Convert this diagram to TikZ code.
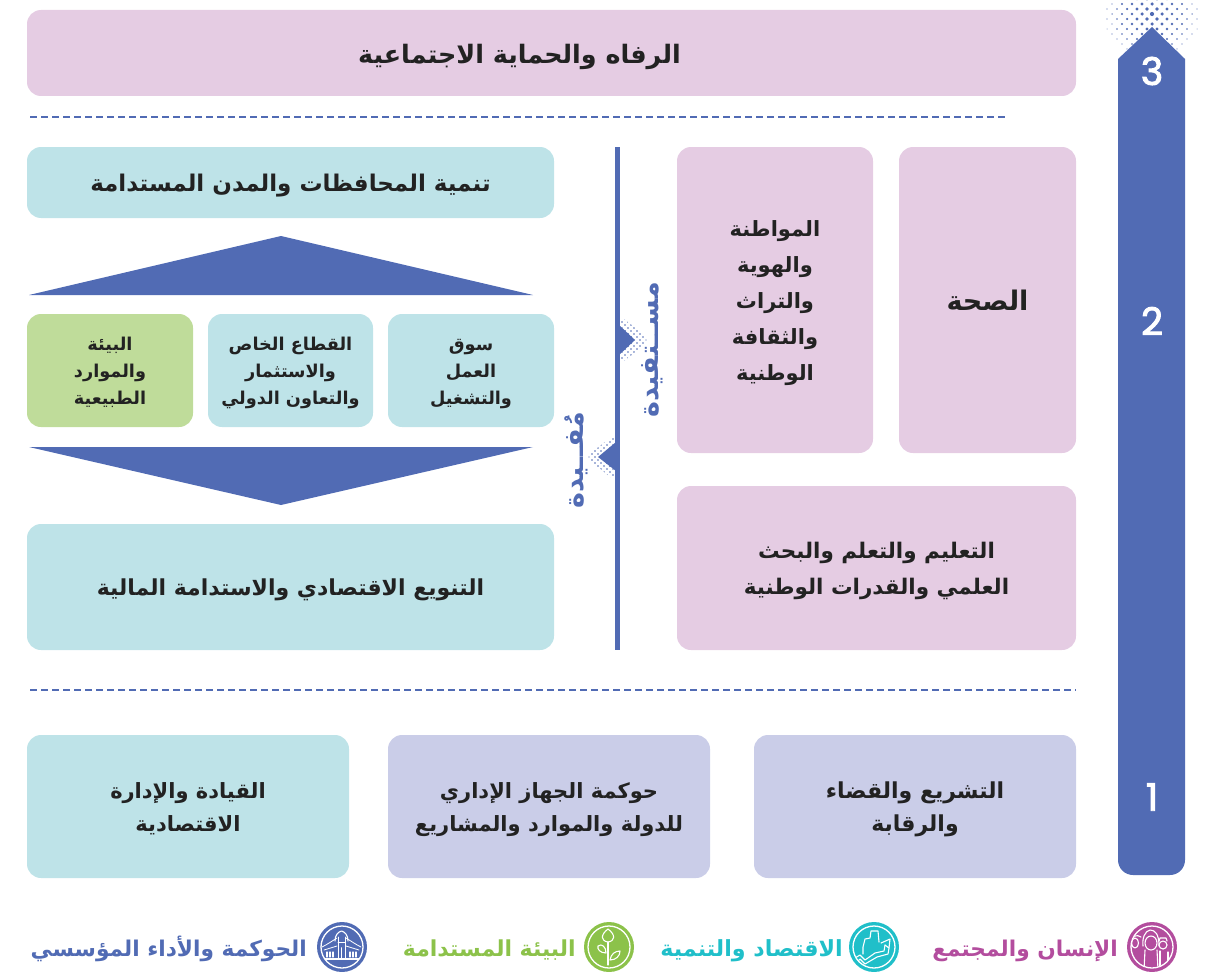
\documentclass[tikz,border=0pt]{standalone}
\usepackage{fontspec}
\setmainfont{DejaVu Sans}
\newfontfamily\arabicfont[Script=Arabic]{DejaVu Sans}
\newfontfamily\numfont[FakeBold=2.5]{Poppins}
\TeXXeTstate=1
\usetikzlibrary{calc}
\definecolor{mainblue}{HTML}{516BB4}
\definecolor{pinkbox}{HTML}{E5CCE3}
\definecolor{tealbox}{HTML}{BEE3E8}
\definecolor{greenbox}{HTML}{BFDC9A}
\definecolor{lavbox}{HTML}{CACDE8}
\definecolor{magentaleg}{HTML}{B34D9E}
\definecolor{tealleg}{HTML}{20BFC9}
\definecolor{greenleg}{HTML}{8CC24A}
\definecolor{ink}{HTML}{222222}
\newcommand{\RL}[1]{\raisebox{0pt}[.85em][.05em]{\beginR #1\endR}}
\newcommand{\fs}[2]{\arabicfont\bfseries\fontsize{#1}{#2}\selectfont}
% cx cy maxdist rmax xrange yrange step
\newcommand{\halftone}[7]{%
  \foreach \i in {-#5,...,#5}{\foreach \j in {-#6,...,#6}{
    \pgfmathparse{int(mod(abs(\i+\j),2))}
    \ifnum\pgfmathresult=0
      \pgfmathsetmacro{\dd}{veclen(\i*#7,\j*#7)}
      \pgfmathsetmacro{\rr}{#4*max(0.2,1-\dd/#3)}
      \fill[mainblue] (#1+\i*#7,#2+\j*#7) circle[radius=\rr];
    \fi}}}
\tikzset{
  box/.style={rounded corners=14pt,draw=none,inner sep=0pt,align=center,text=ink,anchor=center},
  dashline/.style={mainblue,line width=1.8pt,dash pattern=on 7pt off 4pt},
  numlabel/.style={text=white,font=\numfont\fontsize{38}{40}\selectfont,inner sep=0pt},
  legendtext/.style={font=\fs{21.7}{24},anchor=east,inner sep=0pt},
  iconring/.style={draw=white,line width=1.3pt,fill=none},
  iconline/.style={draw=white,line width=1.1pt,line join=round,line cap=round,fill=none},
  sidetext/.style={text=mainblue,rotate=90,inner sep=0pt,font=\fs{27}{30}}
}
\begin{document}
\begin{tikzpicture}[x=1pt,y=-1pt]
\useasboundingbox (0,0) rectangle (1214,971);

% spine arrow
\begin{scope}
  \clip (1152,-16) circle[radius=70];
  \halftone{1152}{14}{62}{2.1}{9}{8}{5}
\end{scope}
\fill[mainblue] (1152,27) -- (1185,59) -- (1185,860)
  arc[start angle=0,end angle=90,radius=15] -- (1133,875)
  arc[start angle=90,end angle=180,radius=15] -- (1118,59) -- cycle;
\node[numlabel] (n3) at (1152,71) {3};
\node[numlabel] (n2) at (1152,321) {2};
\node[numlabel] (n1) at (1152,797) {1};

% top band
\node[box,fill=pinkbox,minimum width=1049pt,minimum height=86pt,font=\fs{25.4}{30}] (welfare) at (551.5,53) {\RL{الرفاه والحماية الاجتماعية}\hspace*{64pt}};
\coordinate (d1a) at (30,117); \coordinate (d1b) at (1005,117);
\draw[dashline] (d1a) -- (d1b);

% left column
\node[box,fill=tealbox,minimum width=527pt,minimum height=71pt,font=\fs{23}{28}] (cities) at (290.5,182.5) {\RL{تنمية المحافظات والمدن المستدامة}};
\fill[mainblue] (29,295) -- (281,236) -- (533,295) -- cycle;
\node[box,fill=tealbox,minimum width=166pt,minimum height=113pt,font=\fs{17.7}{27}] (labour) at (471,370.5) {\RL{سوق}\\\RL{العمل}\\\RL{والتشغيل}};
\node[box,fill=tealbox,minimum width=165pt,minimum height=113pt,font=\fs{17.7}{27}] (private) at (290.5,370.5) {\RL{القطاع الخاص}\\\RL{والاستثمار}\\\RL{والتعاون الدولي}};
\node[box,fill=greenbox,minimum width=166pt,minimum height=113pt,font=\fs{17.7}{27}] (envbox) at (110,370.5) {\RL{البيئة}\\\RL{والموارد}\\\RL{الطبيعية}};
\fill[mainblue] (29,447) -- (533,447) -- (281,505) -- cycle;
\node[box,fill=tealbox,minimum width=527pt,minimum height=126pt,font=\fs{22}{28}] (divers) at (290.5,587) {\RL{التنويع الاقتصادي والاستدامة المالية}};

% centre divider with benefit markers
\begin{scope}
  \clip (620,316) -- (651,340) -- (620,364) -- cycle;
  \halftone{622}{340}{60}{1.2}{10}{8}{3}
\end{scope}
\begin{scope}
  \clip (615,434) -- (586,457) -- (615,481) -- cycle;
  \halftone{613}{457}{60}{1.2}{10}{8}{3}
\end{scope}
\coordinate (va) at (617.5,147); \coordinate (vb) at (617.5,650);
\draw[mainblue,line width=5pt] (va) -- (vb);
\fill[mainblue] (619,325) -- (635,340) -- (619,355) -- cycle;
\fill[mainblue] (616,442) -- (598,457) -- (616,471) -- cycle;
\node[sidetext] (benef) at (648,350) {\RL{مســتفيدة}};
\node[sidetext] (contrib) at (573,460) {\RL{مُفــيدة}};

% right column
\node[box,fill=pinkbox,minimum width=177pt,minimum height=306pt,font=\fs{27}{32}] (health) at (987.5,300) {\RL{الصحة}};
\node[box,fill=pinkbox,minimum width=196pt,minimum height=306pt,font=\fs{21}{36}] (citizen) at (775,300) {\RL{المواطنة}\\\RL{والهوية}\\\RL{والتراث}\\\RL{والثقافة}\\\RL{الوطنية}};
\node[box,fill=pinkbox,minimum width=399pt,minimum height=164pt,font=\fs{21.5}{36}] (edu) at (876.5,568) {\RL{التعليم والتعلم والبحث}\\\RL{العلمي والقدرات الوطنية}};

\coordinate (d2a) at (30,690); \coordinate (d2b) at (1076,690);
\draw[dashline] (d2a) -- (d2b);

% bottom row
\node[box,fill=tealbox,minimum width=322pt,minimum height=143pt,font=\fs{21}{33}] (lead) at (188,806.5) {\RL{القيادة والإدارة}\\\RL{الاقتصادية}};
\node[box,fill=lavbox,minimum width=322pt,minimum height=143pt,font=\fs{21}{33}] (gov) at (549,806.5) {\RL{حوكمة الجهاز الإداري}\\\RL{للدولة والموارد والمشاريع}};
\node[box,fill=lavbox,minimum width=322pt,minimum height=143pt,font=\fs{22}{33}] (law) at (915,806.5) {\RL{التشريع والقضاء}\\\RL{والرقابة}};

% legend: people
\fill[magentaleg] (1152,947) circle[radius=25];
\draw[iconring] (1152,947) circle[radius=21];
\begin{scope}
  \clip (1152,947) circle[radius=20.5];
  \draw[iconline] (1151,943) ellipse[x radius=6,y radius=7];
  \draw[iconline] (1143,946) .. controls (1142,938) and (1145,931) .. (1150,930) .. controls (1155,930) and (1159,934) .. (1159,946);
  \draw[iconline] (1145,950) -- (1144,970) (1157,950) -- (1158,970);
  \draw[iconline] (1135,943) ellipse[x radius=3.5,y radius=5];
  \draw[iconline] (1131,970) -- (1131,942) .. controls (1131,936) and (1137,934) .. (1141,937);
  \draw[iconline] (1163,945) circle[radius=4];
  \draw[iconline] (1159,941) -- (1160,938) -- (1166,938) -- (1167,941);
  \draw[iconline] (1168,970) -- (1168,952) (1160,951) -- (1160,970);
\end{scope}
\node[legendtext,text=magentaleg] (leg1) at (1118,948) {\RL{الإنسان والمجتمع}};

% legend: economy
\fill[tealleg] (874,947) circle[radius=25];
\draw[iconring] (874,947) circle[radius=21];
\begin{scope}
  \clip (874,947) circle[radius=20.5];
  \draw[iconline] (855,958) -- (860,955) -- (865,960) -- (875,953) -- (884,951) -- (885,945);
  \draw[iconline] (881,943) -- (890,939) -- (889,948) -- (885,945);
  \draw[iconline] (857,962) -- (860,959) -- (865,964) -- (877,957) -- (888,954) -- (889,948);
  \draw[iconline] (863,954) -- (863,947) -- (865,939) -- (870,938) -- (871,931) -- (878,931) -- (879,942);
\end{scope}
\node[legendtext,text=tealleg,font=\fs{22.2}{24}] (leg2) at (843,948) {\RL{الاقتصاد والتنمية}};

% legend: environment
\fill[greenleg] (609,947) circle[radius=25];
\draw[iconring] (609,947) circle[radius=21];
\draw[iconline] (608,965) -- (608,942);
\draw[iconline] (608,942) .. controls (601,941) and (600,935) .. (608,929) .. controls (616,935) and (615,941) .. (608,942);
\draw[iconline] (606,953) .. controls (600,953) and (597,949) .. (598,946) .. controls (602,943) and (606,947) .. (606,953);
\draw[iconline] (610,960) .. controls (611,954) and (615,951) .. (620,951) .. controls (620,956) and (616,960) .. (610,960);
\node[legendtext,text=greenleg,font=\fs{22}{24}] (leg3) at (576,948) {\RL{البيئة المستدامة}};

% legend: institution
\fill[mainblue] (342,947) circle[radius=25];
\draw[iconring] (342,947) circle[radius=21];
\begin{scope}
  \clip (342,947) circle[radius=20.5];
  \draw[iconline] (335,941) .. controls (335,935) and (338,932) .. (341.5,931) .. controls (345,932) and (348,935) .. (348,941);
  \draw[iconline,line width=.8pt] (338,937) -- (338,958) (345,937) -- (345,958) (338,942) -- (345,942);
  \draw[iconline,line width=.8pt] (322,947) .. controls (328,944) and (332,941) .. (337,938) (361,947) .. controls (355,944) and (351,941) .. (346,938);
  \draw[iconline,line width=.8pt] (324,950) -- (337,946) (359,950) -- (346,946);
  \foreach \xx in {327,330,333,350,353,356} \draw[iconline,line width=1.2pt] (\xx,952) -- (\xx,957);
  \draw[iconline,line width=1.6pt] (341.5,948) -- (341.5,958);
  \draw[iconline] (322,959) -- (361,959);
\end{scope}
\node[legendtext,text=mainblue] (leg4) at (307,948) {\RL{الحوكمة والأداء المؤسسي}};
\end{tikzpicture}
\end{document}
